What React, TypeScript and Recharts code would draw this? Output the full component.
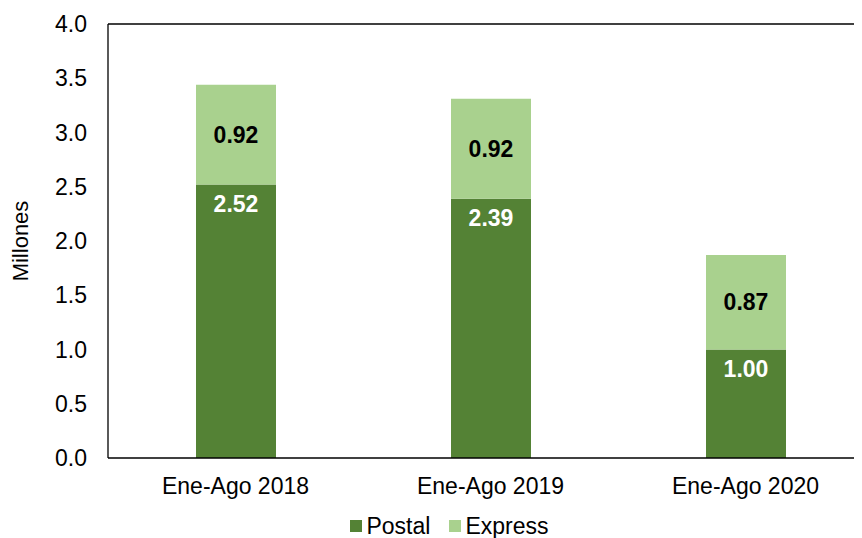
import { BarChart, Bar, XAxis, YAxis, Legend, LabelList, ReferenceLine } from "recharts";

const periods = ["Ene-Ago 2018", "Ene-Ago 2019", "Ene-Ago 2020"];
const postal = [2.52, 2.39, 1.0];
const express = [0.92, 0.92, 0.87];
const yTicks = [0, 0.5, 1, 1.5, 2, 2.5, 3, 3.5, 4];
const seriesNames = ["Postal", "Express"];
const seriesColors = ["#548235", "#a9d18e"];

const data = periods.map((p, i) => ({ period: p, Postal: postal[i], Express: express[i] }));

const font = "'Liberation Sans', Arial, sans-serif";
const fmt = (v: any) => Number(v).toFixed(2);

const LegendBox = () => (
  <div
    style={{
      display: "flex",
      justifyContent: "center",
      alignItems: "center",
      fontFamily: font,
      fontSize: 23,
      lineHeight: "26px",
      color: "#000",
      height: 28,
      paddingTop: 2,
      paddingLeft: 18,
    }}
  >
    {seriesNames.map((n, i) => (
      <div key={n} style={{ display: "flex", alignItems: "center", marginRight: i === 0 ? 19 : 0 }}>
        <span style={{ width: 12, height: 12, background: seriesColors[i], marginRight: 4, display: "inline-block" }} />
        <span>{n}</span>
      </div>
    ))}
  </div>
);

export default function App() {
  return (
    <div style={{ width: 854, height: 530, overflow: "hidden", fontFamily: font }}>
      <BarChart
        width={865}
        height={530}
        data={data}
        margin={{ top: 16, right: 0, bottom: 0, left: 0 }}
        barCategoryGap={0}
      >
        <YAxis
          width={100}
          domain={[0, 4]}
          ticks={yTicks}
          tickFormatter={(v) => Number(v).toFixed(1)}
          tick={{ fill: "#000", fontSize: 23, fontFamily: font }}
          tickLine={false}
          tickSize={8}
          tickMargin={13}
          axisLine={{ stroke: "#000", strokeWidth: 1.3 }}
          label={{
            value: "Millones",
            angle: -90,
            position: "insideLeft",
            dx: 7,
            style: { fill: "#000", fontSize: 22, fontFamily: font, textAnchor: "middle" },
          }}
        />
        <XAxis
          dataKey="period"
          height={52}
          tick={{ fill: "#000", fontSize: 23, fontFamily: font }}
          tickLine={false}
          tickSize={0}
          tickMargin={20}
          axisLine={{ stroke: "#000", strokeWidth: 1.3 }}
        />
        <ReferenceLine y={4} stroke="#000" strokeWidth={1.3} />
        <Legend verticalAlign="bottom" height={28} content={LegendBox} />
        <Bar dataKey="Postal" stackId="a" fill={seriesColors[0]} barSize={80} isAnimationActive={false}>
          <LabelList
            dataKey="Postal"
            position="insideTop"
            offset={11}
            formatter={fmt}
            style={{ fill: "#fff", fontSize: 23, fontWeight: "bold", fontFamily: font }}
          />
        </Bar>
        <Bar dataKey="Express" stackId="a" fill={seriesColors[1]} barSize={80} isAnimationActive={false}>
          <LabelList
            dataKey="Express"
            position="center"
            formatter={fmt}
            style={{ fill: "#000", fontSize: 23, fontWeight: "bold", fontFamily: font }}
          />
        </Bar>
      </BarChart>
    </div>
  );
}
